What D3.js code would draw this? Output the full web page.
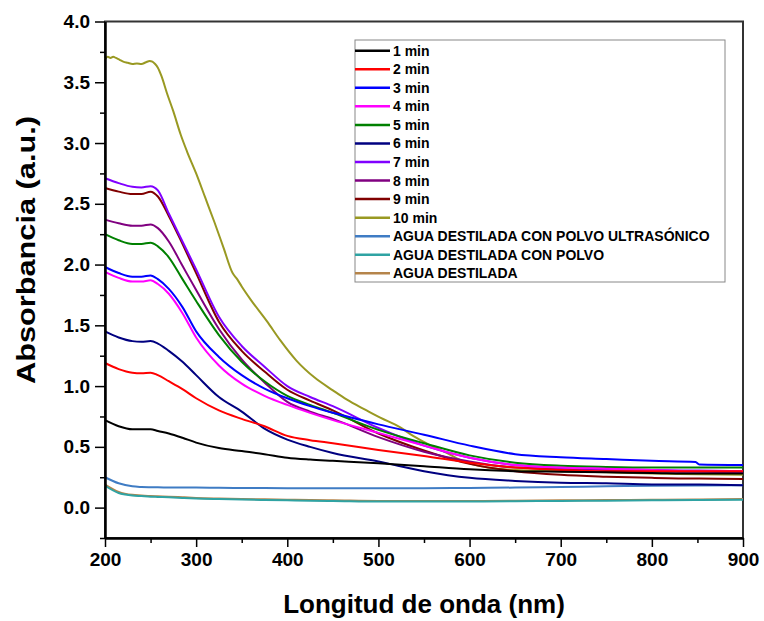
<!DOCTYPE html>
<html>
<head>
<meta charset="utf-8">
<script src="https://cdn.jsdelivr.net/npm/d3@7"></script>
<style>
  body { margin: 0; background: #fff; }
  text { font-family: "Liberation Sans", Arial, sans-serif; font-weight: bold; }
</style>
</head>
<body>
<script>
var w = 764;
var h = 621;

// wavelength grid (nm) shared by most curves
var wavelengths = [200, 215, 230, 240, 250, 258, 270, 285, 300, 325, 350, 375, 400, 425, 450, 500, 550, 600, 650, 700, 750, 800, 848, 852, 900];

var abs1 = [0.72, 0.67, 0.645, 0.645, 0.645, 0.63, 0.61, 0.575, 0.535, 0.49, 0.465, 0.44, 0.41, 0.395, 0.385, 0.365, 0.34, 0.315, 0.30, 0.295, 0.29, 0.285, 0.28, 0.28, 0.28];
var abs2 = [1.19, 1.14, 1.11, 1.105, 1.11, 1.09, 1.04, 0.975, 0.90, 0.80, 0.73, 0.67, 0.59, 0.555, 0.53, 0.475, 0.425, 0.37, 0.33, 0.31, 0.30, 0.30, 0.30, 0.30, 0.30];
var abs3 = [1.98, 1.93, 1.90, 1.90, 1.91, 1.88, 1.80, 1.65, 1.45, 1.24, 1.09, 0.98, 0.90, 0.835, 0.78, 0.685, 0.60, 0.51, 0.44, 0.415, 0.40, 0.385, 0.375, 0.355, 0.35];
var abs4 = [1.94, 1.89, 1.86, 1.86, 1.87, 1.84, 1.76, 1.60, 1.40, 1.17, 1.02, 0.92, 0.845, 0.78, 0.72, 0.615, 0.51, 0.41, 0.35, 0.33, 0.32, 0.31, 0.30, 0.30, 0.30];
var abs5 = [2.25, 2.20, 2.17, 2.17, 2.18, 2.15, 2.06, 1.88, 1.70, 1.42, 1.20, 1.04, 0.92, 0.845, 0.78, 0.64, 0.53, 0.43, 0.37, 0.345, 0.335, 0.33, 0.33, 0.33, 0.33];
var abs6 = [1.45, 1.40, 1.37, 1.365, 1.37, 1.35, 1.29, 1.20, 1.09, 0.91, 0.79, 0.65, 0.56, 0.50, 0.45, 0.38, 0.30, 0.245, 0.22, 0.205, 0.20, 0.19, 0.19, 0.19, 0.185];
var abs7 = [2.71, 2.67, 2.64, 2.635, 2.645, 2.61, 2.42, 2.19, 1.96, 1.57, 1.33, 1.16, 1.00, 0.91, 0.835, 0.655, 0.51, 0.41, 0.35, 0.33, 0.32, 0.31, 0.305, 0.305, 0.30];
var abs8 = [2.37, 2.34, 2.32, 2.32, 2.33, 2.30, 2.19, 1.99, 1.79, 1.47, 1.22, 1.03, 0.87, 0.79, 0.73, 0.58, 0.46, 0.38, 0.33, 0.32, 0.31, 0.30, 0.295, 0.295, 0.29];
var abs9 = [2.63, 2.60, 2.58, 2.58, 2.60, 2.56, 2.40, 2.17, 1.93, 1.53, 1.29, 1.12, 0.97, 0.88, 0.80, 0.61, 0.47, 0.36, 0.30, 0.27, 0.255, 0.245, 0.24, 0.24, 0.235];
var absUltra = [0.25, 0.20, 0.175, 0.17, 0.168, 0.167, 0.166, 0.165, 0.165, 0.163, 0.162, 0.161, 0.16, 0.16, 0.16, 0.16, 0.16, 0.162, 0.165, 0.17, 0.175, 0.18, 0.182, 0.182, 0.185];
var absPolvo = [0.18, 0.12, 0.10, 0.095, 0.09, 0.088, 0.085, 0.08, 0.075, 0.07, 0.066, 0.063, 0.06, 0.057, 0.055, 0.05, 0.05, 0.05, 0.052, 0.055, 0.057, 0.06, 0.062, 0.062, 0.065];
var absAgua = [0.19, 0.13, 0.105, 0.10, 0.095, 0.093, 0.09, 0.085, 0.08, 0.075, 0.071, 0.068, 0.065, 0.062, 0.06, 0.055, 0.055, 0.055, 0.057, 0.06, 0.062, 0.065, 0.067, 0.067, 0.07];

// 10 min has its own, denser grid (noisy plateau)
var wavelengths10 = [200, 203, 206, 209, 212, 216, 220, 225, 230, 235, 240, 245, 249, 252, 255, 258, 262, 268, 275, 283, 290, 300, 310, 320, 330, 340, 345, 350, 360, 378, 392, 410, 430, 450, 465, 487, 502, 524, 538, 555, 575, 593, 620, 650, 700, 750, 800, 850, 900];
var abs10 = [3.69, 3.71, 3.70, 3.71, 3.70, 3.685, 3.67, 3.66, 3.65, 3.655, 3.65, 3.665, 3.675, 3.67, 3.65, 3.62, 3.55, 3.41, 3.26, 3.07, 2.93, 2.75, 2.55, 2.35, 2.14, 1.93, 1.88, 1.82, 1.71, 1.53, 1.38, 1.21, 1.07, 0.965, 0.89, 0.80, 0.74, 0.66, 0.59, 0.52, 0.45, 0.38, 0.33, 0.31, 0.30, 0.29, 0.28, 0.275, 0.27];

var labels = ["1 min", "2 min", "3 min", "4 min", "5 min", "6 min", "7 min", "8 min", "9 min", "10 min",
    "AGUA DESTILADA CON POLVO ULTRASÓNICO", "AGUA DESTILADA CON POLVO", "AGUA DESTILADA"];
var colors = ["#000000", "#ff0000", "#0000ff", "#ff00ff", "#008000", "#000080", "#8000ff", "#800080", "#800000", "#999922",
    "#3f7cc4", "#2fa3a3", "#b5844a"];

var xTicks = [200, 300, 400, 500, 600, 700, 800, 900];
var yTicks = [0, 0.5, 1, 1.5, 2, 2.5, 3, 3.5, 4];

var series = [abs1, abs2, abs3, abs4, abs5, abs6, abs7, abs8, abs9, abs10, absUltra, absPolvo, absAgua].map(function(vals, i) {
    var xs = (vals === abs10) ? wavelengths10 : wavelengths;
    return {
        name: labels[i],
        color: colors[i],
        points: vals.map(function(v, j) { return [xs[j], v]; })
    };
});

var plotLeft = 105, plotRight = 743, plotTop = 21.5, plotBottom = 538;

var x = d3.scaleLinear().domain([200, 900]).range([plotLeft, plotRight]);
var y = d3.scaleLinear().domain([-0.25, 4]).range([plotBottom, plotTop]);

var svg = d3.select("body")
    .append("svg")
        .attr("width", w)
        .attr("height", h);

// frame
svg.append("rect")
    .attr("x", plotLeft)
    .attr("y", plotTop)
    .attr("width", plotRight - plotLeft)
    .attr("height", plotBottom - plotTop)
    .attr("fill", "none")
    .attr("stroke", "#333")
    .attr("stroke-width", 2);

var line = d3.line()
    .x(function(d) { return x(d[0]); })
    .y(function(d) { return y(d[1]); })
    .curve(d3.curveMonotoneX);

// draw in reverse so 1 min ends up on top like the original
svg.append("g")
    .selectAll("path")
    .data(series.slice().reverse())
    .enter()
    .append("path")
        .attr("d", function(d) { return line(d.points); })
        .attr("fill", "none")
        .attr("stroke", function(d) { return d.color; })
        .attr("stroke-width", 2);

// axes
var xAxis = d3.axisBottom(x).tickValues(xTicks).tickSize(9).tickPadding(6).tickSizeOuter(0)
    .tickFormat(d3.format("d"));
var xMinor = d3.axisBottom(x).tickValues(d3.range(250, 900, 100)).tickSize(5).tickSizeOuter(0).tickFormat("");
var yAxis = d3.axisLeft(y).tickValues(yTicks).tickSize(10).tickPadding(5).tickSizeOuter(0)
    .tickFormat(d3.format(".1f"));
var yMinor = d3.axisLeft(y).tickValues(d3.range(-0.25, 4, 0.5)).tickSize(5).tickSizeOuter(0).tickFormat("");

function styleAxis(g) {
    g.select(".domain").attr("stroke", "#000").attr("stroke-width", 2);
    g.selectAll(".tick line").attr("stroke", "#000").attr("stroke-width", 1.5);
    g.selectAll(".tick text").attr("fill", "#000").style("font-size", "19px");
}

svg.append("g").attr("transform", "translate(0," + plotBottom + ")").call(xMinor).call(styleAxis);
svg.append("g").attr("transform", "translate(0," + plotBottom + ")").call(xAxis).call(styleAxis);
svg.append("g").attr("transform", "translate(" + plotLeft + ",0)").call(yMinor).call(styleAxis);
svg.append("g").attr("transform", "translate(" + plotLeft + ",0)").call(yAxis).call(styleAxis);

svg.append("text")
    .text("Longitud de onda (nm)")
    .attr("x", (plotLeft + plotRight) / 2)
    .attr("y", 613)
    .attr("text-anchor", "middle")
    .attr("font-size", 26);

svg.append("text")
    .text("Absorbancia (a.u.)")
    .attr("transform", "translate(35,250) rotate(-90)")
    .attr("text-anchor", "middle")
    .attr("font-size", 26)
    .attr("textLength", 268)
    .attr("lengthAdjust", "spacingAndGlyphs");

// legend
var legend = svg.append("g");
legend.append("rect")
    .attr("x", 355)
    .attr("y", 40)
    .attr("width", 370)
    .attr("height", 242)
    .attr("fill", "#fff")
    .attr("stroke", "#888")
    .attr("stroke-width", 1);

var item = legend.selectAll("g.item")
    .data(series)
    .enter()
    .append("g")
        .attr("class", "item")
        .attr("transform", function(d, i) { return "translate(355," + (50.7 + i * 18.55) + ")"; });

item.append("line")
    .attr("x1", 0).attr("x2", 35)
    .attr("stroke", function(d) { return d.color; })
    .attr("stroke-width", 2.5);

item.append("text")
    .text(function(d) { return d.name; })
    .attr("x", 38)
    .attr("dy", "0.36em")
    .attr("font-size", 14);
</script>
</body>
</html>
